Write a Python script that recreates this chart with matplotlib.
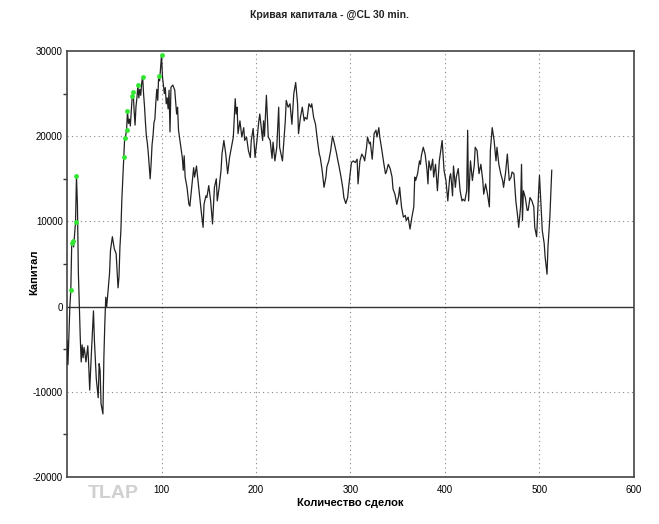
import matplotlib.pyplot as plt

# equity curve: trade number -> capital
trades = [0, 1, 2, 3, 4, 5, 6, 7, 8, 9, 10, 11, 12, 13, 14, 15, 16, 17, 18, 19,
          20, 22, 23, 24, 26, 28, 29, 31, 33, 34, 35, 36, 38, 39, 40, 41, 42, 44, 45, 46,
          48, 49, 50, 52, 54, 55, 56, 57, 58, 59, 60, 61, 62, 63, 64, 65, 66, 67, 68, 69,
          70, 71, 72, 73, 74, 75, 76, 77, 78, 79, 80, 81, 82, 83, 84, 85, 86, 87, 88, 89,
          90, 91, 92, 93, 94, 95, 96, 97, 98, 99, 100, 101, 102, 103, 104, 105, 106, 107, 108, 109,
          110, 112, 114, 116, 117, 118, 120, 122, 123, 124, 125, 127, 129, 130, 132, 134, 135, 137, 139, 141,
          142, 144, 145, 147, 148, 150, 152, 154, 156, 158, 159, 161, 163, 164, 166, 168, 170, 172, 174, 176,
          178, 179, 180, 181, 183, 185, 187, 188, 190, 192, 194, 195, 197, 199, 201, 203, 204, 207, 208, 209,
          211, 213, 215, 217, 218, 220, 222, 224, 225, 228, 231, 232, 234, 236, 238, 240, 242, 244, 245, 247,
          249, 251, 252, 254, 256, 258, 259, 261, 263, 265, 267, 268, 270, 272, 274, 275, 277, 279, 281, 283,
          285, 286, 288, 290, 292, 293, 295, 297, 298, 300, 301, 303, 305, 307, 308, 310, 312, 314, 315, 317,
          318, 320, 321, 323, 325, 327, 328, 330, 331, 333, 335, 337, 338, 340, 342, 344, 345, 347, 349, 351,
          352, 354, 356, 358, 359, 361, 363, 365, 367, 368, 369, 371, 373, 374, 375, 377, 379, 381, 382, 383,
          385, 387, 388, 390, 392, 394, 395, 397, 399, 401, 403, 405, 406, 407, 408, 409, 411, 412, 414, 416,
          418, 419, 421, 423, 424, 425, 427, 429, 431, 432, 434, 436, 438, 440, 441, 443, 445, 447, 448, 450,
          452, 454, 455, 457, 459, 461, 462, 464, 466, 468, 470, 471, 473, 475, 477, 478, 480, 481, 482, 483,
          485, 487, 488, 490, 492, 494, 495, 497, 499, 500, 501, 503, 505, 506, 508, 509, 511, 513]
equity = [-4000, -6800, -3500, 0, 1900, 7500, 7750, 7000, 8500, 9900, 15300, 12000, 4000, 0, -3600, -6500, -4500, -6000, -4800, -5500,
          -6500, -4600, -7000, -9800, -5000, -500, -4000, -8500, -10700, -6700, -7500, -11400, -12600, -6000, -2000, 1100, 0, 2700, 3900, 6600,
          8200, 7500, 6800, 6200, 2200, 3500, 7000, 8900, 12500, 15000, 17500, 19800, 20000, 20700, 22900, 21500, 22000, 21200, 23000, 24700,
          25200, 23000, 21300, 23500, 24500, 26000, 24500, 25500, 24800, 26200, 27000, 25000, 23500, 21600, 20000, 19200, 18000, 16500, 15000, 16800,
          19000, 20000, 21600, 22000, 24000, 25500, 24200, 27100, 26500, 28000, 29500, 27000, 26000, 25000, 25700, 23800, 24500, 23200, 25400, 20500,
          25750, 26000, 25400, 22600, 23400, 20700, 19100, 17500, 16000, 17700, 15200, 14000, 12000, 11800, 14000, 16300, 15200, 16500, 14400, 12400,
          11200, 9300, 12000, 13000, 12800, 14200, 12400, 9700, 14000, 15000, 12400, 14000, 16000, 17900, 19500, 17900, 15600, 17500, 18700, 19900,
          24400, 22600, 23400, 20300, 21800, 19900, 21000, 19500, 19900, 18300, 17500, 19500, 20900, 17500, 19500, 21800, 22600, 19500, 21800, 20000,
          24800, 19900, 19500, 17400, 19300, 17100, 18700, 23400, 18700, 17100, 21800, 24200, 23400, 23800, 21400, 25000, 26300, 23800, 20300, 22200,
          23400, 21800, 22200, 22000, 23800, 23400, 23800, 22200, 21400, 19500, 17900, 17500, 16000, 14000, 15200, 16400, 17100, 18300, 20000, 19100,
          18100, 17500, 16400, 15200, 13800, 12800, 12100, 12800, 14000, 16000, 16900, 17100, 16900, 17300, 14400, 17100, 17900, 17500, 17100, 18700,
          19900, 19100, 19300, 17300, 20300, 20700, 19900, 21000, 19900, 18500, 17000, 15600, 15800, 16700, 16200, 15200, 13800, 13200, 12000, 13000,
          14000, 11700, 10500, 10700, 10100, 10500, 9100, 10500, 11700, 15200, 14800, 15600, 17100, 16700, 17700, 18700, 17900, 16000, 14400, 17100,
          16000, 17300, 15200, 16700, 13600, 17100, 17900, 19500, 16000, 14800, 12400, 15200, 15600, 14400, 13000, 16500, 14000, 15200, 16200, 13600,
          12400, 12600, 12400, 13600, 20700, 12400, 17100, 14800, 16600, 18700, 18300, 15600, 16700, 14800, 13200, 14400, 13200, 11700, 18300, 21000,
          19500, 17100, 18700, 16700, 15600, 14800, 14000, 15600, 17900, 14800, 15200, 15800, 15600, 12400, 10500, 9300, 11700, 16700, 10100, 13600,
          12800, 11300, 11300, 12800, 12400, 11700, 9300, 8200, 13200, 15400, 13200, 8900, 7400, 5800, 3800, 7000, 10500, 16000]

# new equity highs (green markers)
high_trades = [4, 5, 6, 9, 10, 60, 61, 63, 64, 69, 70, 75, 80, 97, 100]
high_values = [1900, 7500, 7750, 9900, 15300, 17500, 19800, 20700, 22900, 24700, 25200, 26000, 27000, 27100, 29500]

plt.rcParams['font.family'] = ['Liberation Sans', 'DejaVu Sans']
plt.rcParams['axes.unicode_minus'] = False

fig = plt.figure(figsize=(6.59, 5.24), dpi=100)
ax = fig.add_axes([0.1017, 0.0897, 0.8603, 0.813])

ax.plot(trades, equity, color='#222222', linewidth=0.9, zorder=3)
ax.plot(high_trades, high_values, 'o', color='#33e633', markersize=3.5,
        markeredgewidth=0, zorder=4)

ax.axhline(0, color='#333333', linewidth=1.0, zorder=2)

ax.set_xlim(0, 600)
ax.set_ylim(-20000, 30000)
ax.set_xticks([100, 200, 300, 400, 500, 600])
ax.set_yticks([-20000, -10000, 0, 10000, 20000, 30000])
ax.set_yticks([-15000, -5000, 5000, 15000, 25000], minor=True)
ax.tick_params(axis='x', labelsize=7, length=0, pad=6)
ax.tick_params(axis='y', labelsize=7, length=0, pad=3)
ax.tick_params(axis='y', which='minor', length=3, width=1, color='#333333')

for gx in [100, 200, 300, 400, 500]:
    ax.axvline(gx, color='#888888', linestyle=(0, (1, 3)), linewidth=0.8, zorder=1)
for gy in [-10000, 10000, 20000]:
    ax.axhline(gy, color='#888888', linestyle=(0, (1, 3)), linewidth=0.8, zorder=1)

for s in ax.spines.values():
    s.set_color('#444444')
    s.set_linewidth(1.2)

fig.text(0.5, 0.971, 'Кривая капитала - @CL 30 min.', ha='center', va='center',
         fontsize=7.5, fontweight='bold', color='#222222')
ax.set_xlabel('Количество сделок', fontsize=8, fontweight='bold', labelpad=2)
fig.text(34 / 659, 1 - 272 / 524, 'Капитал', rotation=90, ha='center', va='center',
         fontsize=8, fontweight='bold')

fig.text(113 / 659, 1 - 494 / 524, 'TLAP', ha='center', va='center',
         fontsize=14, fontweight='bold', color='#d0d0d0')

fig.savefig('out.png', dpi=100)
